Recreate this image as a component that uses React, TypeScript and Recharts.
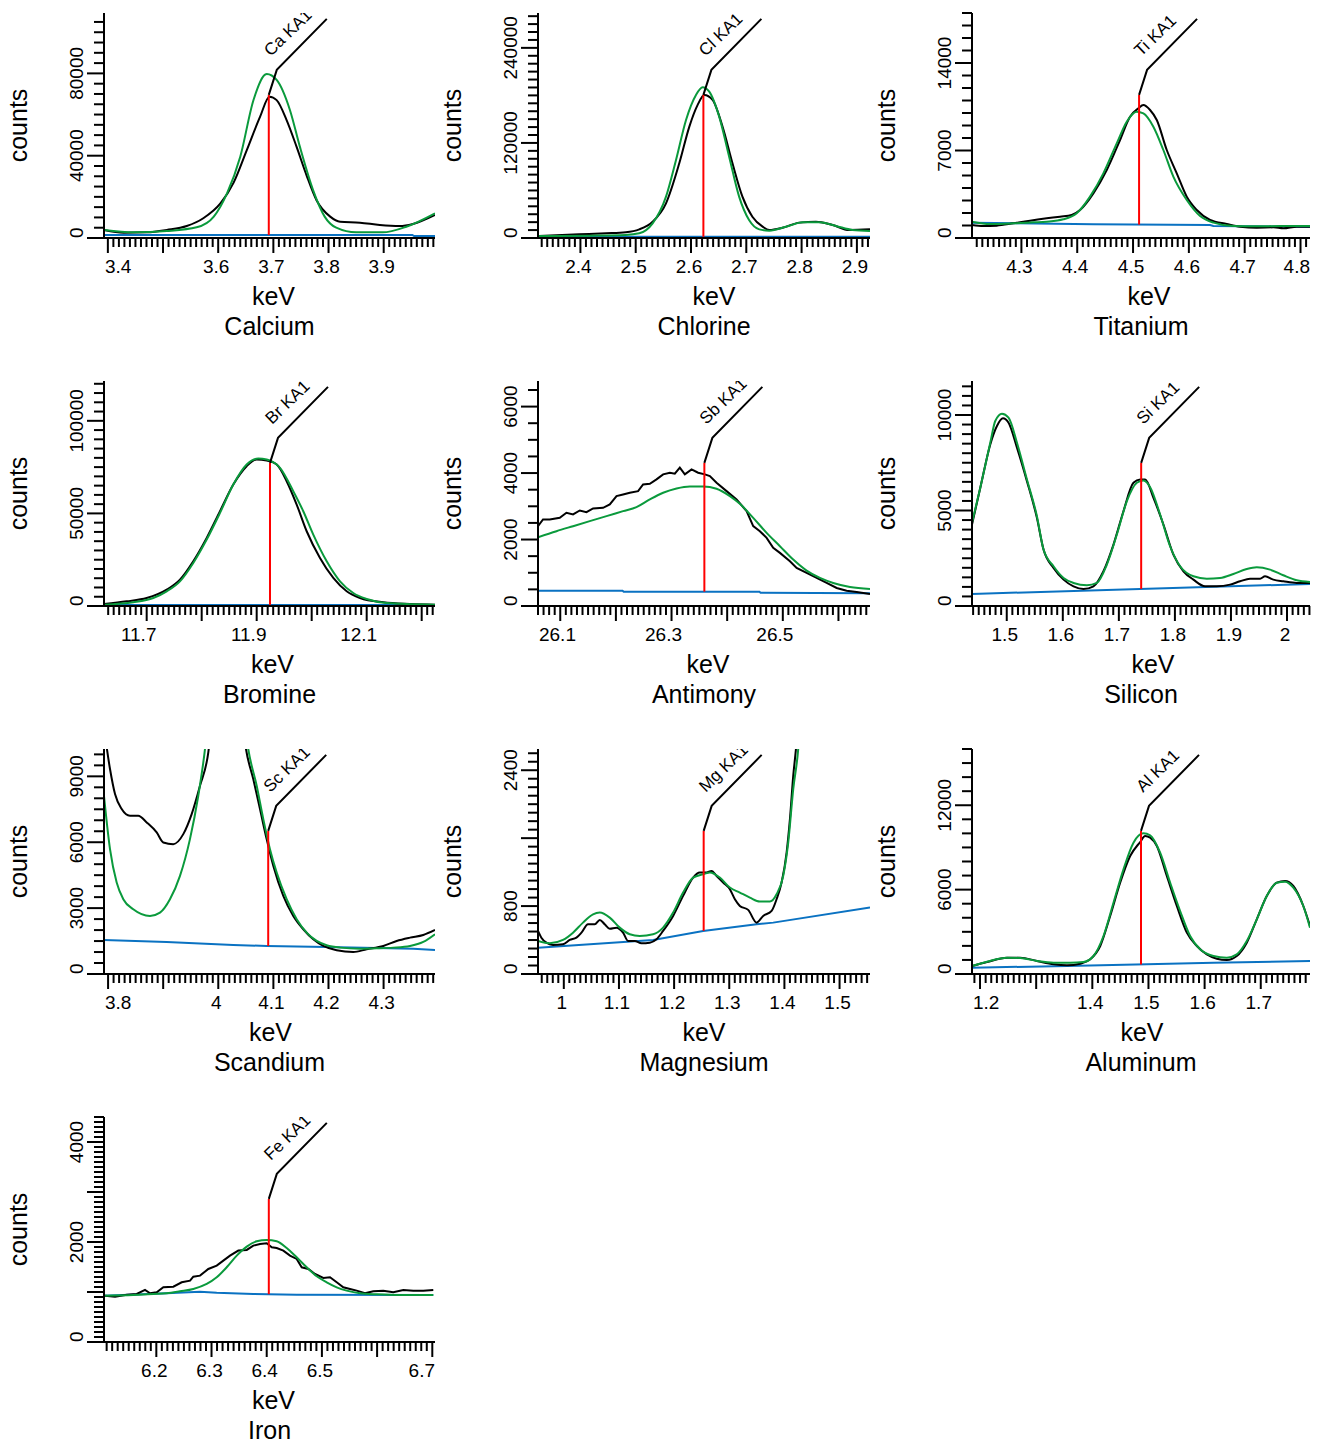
import { LineChart, Line, XAxis, YAxis, ReferenceLine } from 'recharts'

type Pt = [number, number]

const FONT = '"Liberation Sans", Arial, Helvetica, sans-serif'
const BLACK = '#000000'
const GREEN = '#0a9a3c'
const BLUE = '#0a72c2'
const RED = '#ff0000'

/* ---------- Calcium ---------- */
const CA_MEASURED: Pt[] = [
  [3.393, 3900], [3.4288, 2600], [3.471, 2750], [3.507, 3900], [3.543, 5800], [3.573, 9600],
  [3.604, 16800], [3.628, 26900], [3.652, 42800], [3.676, 59000], [3.693, 68700], [3.706, 67000],
  [3.724, 57300], [3.742, 44400], [3.76, 30600], [3.778, 18500], [3.803, 10400], [3.821, 7900],
  [3.857, 7450], [3.893, 6300], [3.929, 5800], [3.953, 6800], [3.993, 11200],
]
const CA_FIT: Pt[] = [
  [3.393, 3900], [3.447, 2750], [3.507, 3400], [3.561, 5200], [3.592, 10400], [3.616, 21700],
  [3.64, 39500], [3.664, 67100], [3.688, 79700], [3.706, 76800], [3.73, 62200], [3.748, 44400],
  [3.772, 23300], [3.793, 10400], [3.814, 5000], [3.85, 2750], [3.898, 2750], [3.941, 5500], [3.993, 12000],
]
const CA_BACKGROUND: Pt[] = [[3.393, 1460], [3.952, 1460], [3.955, 970], [3.993, 970]]
const CA_X_LABELS = [3.4, 3.6, 3.7, 3.8, 3.9]
const CA_Y_LABELS = [0, 40000, 80000]

/* ---------- Chlorine ---------- */
const CL_MEASURED: Pt[] = [
  [2.3233, 2500], [2.398, 4600], [2.4463, 5900], [2.482, 7200], [2.5065, 10900], [2.5306, 20600],
  [2.5548, 43800], [2.5788, 94300], [2.597, 140600], [2.612, 168000], [2.624, 180600], [2.639, 174300],
  [2.657, 140600], [2.675, 94300], [2.693, 52200], [2.711, 26900], [2.7295, 14300], [2.7416, 10100],
  [2.7657, 13000], [2.796, 19400], [2.826, 20600], [2.856, 16400], [2.886, 10100], [2.9237, 10900],
]
const CL_FIT: Pt[] = [
  [2.3233, 2500], [2.416, 2950], [2.482, 3800], [2.5065, 5900], [2.5306, 18500], [2.5548, 52200],
  [2.5729, 98500], [2.591, 149000], [2.609, 180600], [2.621, 190300], [2.633, 184800], [2.651, 153200],
  [2.669, 102700], [2.687, 52200], [2.705, 22700], [2.7235, 10900], [2.7416, 9300], [2.772, 14300],
  [2.802, 19800], [2.832, 19800], [2.862, 15200], [2.892, 10100], [2.9237, 8800],
]
const CL_BACKGROUND: Pt[] = [[2.3233, 1500], [2.9237, 1500]]
const CL_X_LABELS = [2.4, 2.5, 2.6, 2.7, 2.8, 2.9]
const CL_Y_LABELS = [0, 120000, 240000]

/* ---------- Titanium ---------- */
const TI_MEASURED: Pt[] = [
  [4.2115, 1040], [4.2317, 960], [4.2557, 987], [4.2855, 1173], [4.3154, 1387], [4.3453, 1573],
  [4.3692, 1707], [4.3901, 1840], [4.405, 2240], [4.4289, 3573], [4.4529, 5440], [4.4767, 7840],
  [4.4946, 9707], [4.5095, 10373], [4.5185, 10640], [4.5305, 10240], [4.5425, 9440], [4.5604, 7040],
  [4.5783, 5173], [4.5962, 3307], [4.6142, 2240], [4.638, 1440], [4.6679, 1120], [4.6918, 907],
  [4.7217, 827], [4.7514, 853], [4.7694, 773], [4.7934, 907], [4.817, 907],
]
const TI_FIT: Pt[] = [
  [4.2115, 1307], [4.2437, 1120], [4.2855, 1173], [4.3213, 1253], [4.3453, 1307], [4.3751, 1493],
  [4.3991, 1973], [4.4229, 3307], [4.4468, 5173], [4.4708, 7573], [4.4887, 9307], [4.5066, 10107],
  [4.5185, 9973], [4.5364, 8907], [4.5543, 7040], [4.5722, 4907], [4.5962, 3040], [4.6201, 1760],
  [4.6439, 1227], [4.6797, 960], [4.7217, 933], [4.7634, 960], [4.817, 960],
]
const TI_BACKGROUND: Pt[] = [[4.2115, 1227], [4.4289, 1093], [4.638, 1040], [4.6439, 960], [4.817, 907]]
const TI_X_LABELS = [4.3, 4.4, 4.5, 4.6, 4.7, 4.8]
const TI_Y_LABELS = [0, 7000, 14000]

/* ---------- Bromine ---------- */
const BR_MEASURED: Pt[] = [
  [11.6224, 1080], [11.6636, 2520], [11.7, 4320], [11.7364, 8830], [11.7605, 14240], [11.7847, 24150],
  [11.8091, 36760], [11.8333, 51180], [11.8575, 65590], [11.8818, 75500], [11.9, 79100], [11.9182, 78570],
  [11.9364, 76400], [11.9545, 67400], [11.9727, 54780], [11.9909, 40360], [12.0151, 25950], [12.0393, 15140],
  [12.0636, 7930], [12.0878, 4320], [12.1302, 1980], [12.1787, 1080], [12.2242, 720],
]
const BR_FIT: Pt[] = [
  [11.6224, 720], [11.6756, 1980], [11.712, 4320], [11.7364, 7930], [11.7605, 13330], [11.7847, 23250],
  [11.8091, 35860], [11.8333, 50280], [11.8575, 65590], [11.8818, 76400], [11.903, 79650], [11.9182, 79100],
  [11.9424, 74600], [11.9665, 61990], [11.9847, 51180], [12.0029, 38560], [12.0273, 24150], [12.0515, 13330],
  [12.0756, 7030], [12.1, 3780], [12.1364, 1620], [12.2242, 720],
]
const BR_BACKGROUND: Pt[] = [[11.6224, 600], [12.2242, 600]]
const BR_X_LABELS = [11.7, 11.9, 12.1]
const BR_Y_LABELS = [0, 50000, 100000]

/* ---------- Antimony ---------- */
const SB_MEASURED: Pt[] = [
  [26.06, 2402], [26.069, 2603], [26.0811, 2603], [26.0991, 2653], [26.1111, 2804], [26.123, 2754],
  [26.1351, 2874], [26.1471, 2824], [26.159, 2935], [26.177, 2955], [26.189, 3055], [26.2011, 3306],
  [26.2129, 3357], [26.225, 3407], [26.2399, 3457], [26.2489, 3658], [26.261, 3678], [26.273, 3809],
  [26.2849, 3960], [26.297, 4010], [26.3059, 3980], [26.3149, 4161], [26.3239, 3960], [26.336, 4110],
  [26.3478, 4010], [26.3599, 3960], [26.3689, 3909], [26.3809, 3708], [26.3989, 3457], [26.4169, 3206],
  [26.4349, 2854], [26.4468, 2402], [26.4588, 2251], [26.4709, 2050], [26.4827, 1749], [26.4948, 1598],
  [26.5128, 1347], [26.5248, 1146], [26.5428, 995], [26.5608, 844], [26.5788, 693], [26.5968, 543],
  [26.6147, 462], [26.6327, 422], [26.6567, 362],
]
const SB_FIT: Pt[] = [
  [26.06, 2070], [26.0932, 2251], [26.123, 2402], [26.153, 2553], [26.1831, 2703], [26.2129, 2854],
  [26.237, 2975], [26.261, 3206], [26.2849, 3407], [26.309, 3538], [26.3329, 3598], [26.3568, 3598],
  [26.3809, 3528], [26.4049, 3306], [26.4228, 3075], [26.4468, 2653], [26.4709, 2201], [26.4948, 1799],
  [26.5187, 1397], [26.5428, 1065], [26.5667, 844], [26.5906, 693], [26.6207, 573], [26.6567, 513],
]
const SB_BACKGROUND: Pt[] = [[26.06, 462], [26.212, 462], [26.214, 432], [26.458, 432], [26.46, 402], [26.6567, 382]]
const SB_X_LABELS = [26.1, 26.3, 26.5]
const SB_Y_LABELS = [0, 2000, 4000, 6000]

/* ---------- Silicon ---------- */
const SI_MEASURED: Pt[] = [
  [1.438, 4265], [1.4528, 6188], [1.4706, 8460], [1.4825, 9422], [1.4932, 9824], [1.5032, 9597],
  [1.5182, 8286], [1.536, 6538], [1.5538, 4615], [1.5656, 2954], [1.5834, 1993], [1.6013, 1381],
  [1.6191, 1031], [1.6369, 891], [1.6547, 1031], [1.6725, 1818], [1.6904, 3216], [1.7082, 4964],
  [1.726, 6450], [1.738, 6625], [1.7469, 6625], [1.7617, 5664], [1.7795, 4265], [1.7973, 2692],
  [1.8152, 1818], [1.833, 1381], [1.8538, 1031], [1.8747, 1031], [1.8984, 1120], [1.9162, 1294],
  [1.934, 1433], [1.9519, 1433], [1.9608, 1556], [1.9756, 1381], [1.9934, 1294], [2.0173, 1206], [2.041, 1206],
]
const SI_FIT: Pt[] = [
  [1.438, 4353], [1.4528, 6188], [1.4706, 8548], [1.4795, 9684], [1.4914, 10068], [1.5032, 9859],
  [1.5182, 8548], [1.536, 6625], [1.5538, 4702], [1.5656, 2954], [1.5834, 2080], [1.6013, 1468],
  [1.6191, 1206], [1.643, 1084], [1.6608, 1206], [1.6786, 2168], [1.6964, 3741], [1.7143, 5489],
  [1.7321, 6450], [1.7439, 6572], [1.7558, 6223], [1.7736, 4790], [1.7914, 3129], [1.8093, 2080],
  [1.833, 1556], [1.8569, 1433], [1.8806, 1468], [1.9043, 1678], [1.9282, 1940], [1.946, 2028],
  [1.9697, 1905], [1.9934, 1608], [2.0173, 1346], [2.041, 1259],
]
const SI_BACKGROUND: Pt[] = [[1.438, 629], [2.041, 1154]]
const SI_X_LABELS = [1.5, 1.6, 1.7, 1.8, 1.9, 2]
const SI_Y_LABELS = [0, 5000, 10000]

/* ---------- Scandium ---------- */
const SC_MEASURED: Pt[] = [
  [3.7926, 11200], [3.8035, 9333], [3.8126, 8193], [3.8247, 7509], [3.8397, 7205], [3.8548, 7205],
  [3.8701, 6901], [3.8882, 6445], [3.9002, 5989], [3.9183, 5913], [3.9365, 6369], [3.9517, 7281],
  [3.9668, 8573], [3.9819, 10093], [3.995, 13500], [4.013, 17000], [4.032, 14500], [4.0503, 10245],
  [4.0635, 8877], [4.0757, 7509], [4.0878, 6141], [4.0998, 4925], [4.118, 3557], [4.1361, 2645],
  [4.1543, 2037], [4.1724, 1581], [4.1906, 1277], [4.2149, 1079], [4.245, 1003], [4.2693, 1125],
  [4.2995, 1277], [4.3237, 1505], [4.3479, 1657], [4.372, 1778], [4.3933, 2006],
]
const SC_FIT: Pt[] = [
  [3.7926, 8100], [3.8035, 5685], [3.8156, 4165], [3.8276, 3405], [3.8457, 2949], [3.876, 2645],
  [3.8942, 2797], [3.9123, 3405], [3.9305, 4469], [3.9486, 6141], [3.9637, 8117], [3.9759, 10245],
  [3.99, 14000], [4.013, 18000], [4.035, 14500], [4.0544, 10245], [4.0697, 8573], [4.0817, 7053],
  [4.0938, 5685], [4.106, 4621], [4.1241, 3405], [4.1423, 2493], [4.1604, 1885], [4.1786, 1505],
  [4.1967, 1307], [4.2209, 1201], [4.2572, 1155], [4.2875, 1170], [4.3176, 1201], [4.3479, 1277],
  [4.372, 1459], [4.3933, 1809],
]
const SC_BACKGROUND: Pt[] = [
  [3.7926, 1550], [3.9063, 1459], [4.0272, 1322], [4.0878, 1277], [4.1967, 1231], [4.3539, 1155], [4.3933, 1094],
]
const SC_X_LABELS = [3.8, 4, 4.1, 4.2, 4.3]
const SC_Y_LABELS = [0, 3000, 6000, 9000]

/* ---------- Magnesium ---------- */
const MG_MEASURED: Pt[] = [
  [0.9532, 507], [0.9593, 428], [0.9684, 369], [0.9804, 342], [0.9985, 350], [1.0107, 401],
  [1.0229, 428], [1.032, 487], [1.0439, 586], [1.0561, 586], [1.0652, 637], [1.0742, 586],
  [1.0833, 534], [1.0955, 546], [1.1074, 487], [1.1165, 389], [1.1287, 389], [1.1408, 362],
  [1.1559, 369], [1.1681, 409], [1.18, 507], [1.1982, 684], [1.2163, 920], [1.2345, 1136],
  [1.2466, 1195], [1.2588, 1195], [1.2679, 1214], [1.277, 1155], [1.2889, 1077], [1.3011, 998],
  [1.3102, 880], [1.3192, 802], [1.3343, 755], [1.3495, 605], [1.3615, 684], [1.3768, 743],
  [1.3858, 880], [1.3949, 1077], [1.404, 1431], [1.41, 1824], [1.416, 2334], [1.4209, 2649],
  [1.435, 4000], [1.46, 7000], [1.4867, 9000], [1.52, 7000], [1.5552, 5000],
]
const MG_FIT: Pt[] = [
  [0.9532, 389], [0.9744, 362], [0.9985, 401], [1.0167, 487], [1.0348, 605], [1.053, 703],
  [1.0652, 723], [1.0833, 664], [1.1014, 546], [1.1196, 468], [1.1377, 448], [1.1619, 468],
  [1.18, 546], [1.1982, 723], [1.2163, 959], [1.2345, 1136], [1.2526, 1175], [1.2648, 1195],
  [1.2829, 1136], [1.3011, 1018], [1.3192, 959], [1.3374, 900], [1.3555, 853], [1.3737, 853],
  [1.3858, 939], [1.3978, 1155], [1.4069, 1548], [1.416, 2177], [1.425, 2649], [1.44, 4500],
  [1.4867, 10000], [1.5552, 5000],
]
const MG_BACKGROUND: Pt[] = [[0.9532, 310], [1.1619, 401], [1.2526, 507], [1.3495, 586], [1.3797, 605], [1.5552, 782]]
const MG_X_LABELS = [1, 1.1, 1.2, 1.3, 1.4, 1.5]
const MG_Y_LABELS = [0, 800, 2400]

/* ---------- Aluminum ---------- */
const AL_MEASURED: Pt[] = [
  [1.1857, 569], [1.2125, 853], [1.248, 1161], [1.2717, 1161], [1.3014, 924], [1.331, 687],
  [1.3548, 616], [1.3785, 735], [1.3963, 1043], [1.4141, 1991], [1.4318, 4124], [1.4496, 6494],
  [1.4674, 8390], [1.4852, 9385], [1.4941, 9812], [1.503, 9693], [1.5149, 9101], [1.5327, 6968],
  [1.5505, 4835], [1.5683, 2939], [1.5861, 1991], [1.6039, 1398], [1.6217, 1090], [1.6395, 995],
  [1.6573, 1280], [1.6751, 2228], [1.6929, 3887], [1.7107, 5546], [1.7285, 6494], [1.7432, 6612],
  [1.758, 6257], [1.7758, 4835], [1.7877, 3413],
]
const AL_FIT: Pt[] = [
  [1.1857, 569], [1.2125, 877], [1.248, 1161], [1.2717, 1138], [1.3014, 924], [1.331, 806],
  [1.3607, 806], [1.3843, 853], [1.4021, 1280], [1.4199, 2702], [1.4377, 5072], [1.4555, 7442],
  [1.4733, 9338], [1.4911, 10001], [1.503, 9859], [1.5208, 8627], [1.5386, 6494], [1.5564, 4479],
  [1.5742, 2702], [1.592, 1754], [1.6157, 1280], [1.6395, 1161], [1.6573, 1398], [1.6751, 2346],
  [1.6929, 3887], [1.7107, 5546], [1.7285, 6494], [1.7432, 6565], [1.758, 6138], [1.7758, 4835], [1.7877, 3294],
]
const AL_BACKGROUND: Pt[] = [[1.1857, 450], [1.3548, 569], [1.4972, 687], [1.6157, 806], [1.7877, 924]]
const AL_X_LABELS = [1.2, 1.4, 1.5, 1.6, 1.7]
const AL_Y_LABELS = [0, 6000, 12000]

/* ---------- Iron ---------- */
const FE_MEASURED: Pt[] = [
  [6.1071, 927], [6.1252, 907], [6.1464, 947], [6.1645, 960], [6.1795, 1041], [6.1886, 974],
  [6.2007, 994], [6.2127, 1094], [6.2308, 1107], [6.246, 1194], [6.2611, 1227], [6.267, 1307],
  [6.2792, 1327], [6.2942, 1461], [6.3094, 1527], [6.3214, 1627], [6.3335, 1728], [6.3486, 1828],
  [6.3638, 1841], [6.3757, 1928], [6.3879, 1961], [6.4, 1974], [6.4091, 1894], [6.4181, 1881],
  [6.4301, 1828], [6.4422, 1728], [6.4543, 1661], [6.4634, 1494], [6.4754, 1461], [6.4875, 1361],
  [6.5025, 1281], [6.5147, 1294], [6.5268, 1194], [6.5388, 1094], [6.5509, 1061], [6.563, 1027],
  [6.5781, 974], [6.5931, 1014], [6.6112, 1027], [6.6293, 994], [6.6475, 1041], [6.6656, 1027],
  [6.6837, 1027], [6.7018, 1041],
]
const FE_FIT: Pt[] = [
  [6.1071, 927], [6.1583, 940], [6.1946, 960], [6.2188, 974], [6.2429, 1014], [6.267, 1061],
  [6.2913, 1161], [6.3094, 1294], [6.3275, 1494], [6.3457, 1728], [6.3638, 1908], [6.3819, 2014],
  [6.4, 2041], [6.4181, 2014], [6.4362, 1881], [6.4543, 1694], [6.4725, 1494], [6.4906, 1314],
  [6.5087, 1194], [6.5268, 1094], [6.5449, 1027], [6.569, 974], [6.5993, 954], [6.6415, 940], [6.7018, 940],
]
const FE_BACKGROUND: Pt[] = [[6.1052, 927], [6.2188, 974], [6.2792, 1007], [6.3094, 987], [6.3757, 960], [6.4543, 947], [6.7018, 940]]
const FE_X_LABELS = [6.2, 6.3, 6.4, 6.5, 6.7]
const FE_Y_LABELS = [0, 2000, 4000]

/* ---------- layout ---------- */
const COL_X = [0, 440, 880]
const ROW_Y = [0, 368, 736, 1104]
const PLOT_LEFT = [104, 98, 92]
const PLOT_RIGHT = [435, 430, 430]
const PLOT_TOP = 13
const PLOT_BOTTOM = 238
const CHART_H = 290
const MARK_FRACTION = 0.636
const TICK_FONT = 19
const TITLE_FONT = 25

interface PanelSpec {
  name: string
  lineLabel: string
  col: number
  row: number
  xDomain: [number, number]
  yDomain: [number, number]
  xLabels: number[]
  yLabels: number[]
  yMajorStep: number
  yMinorStep: number
  peak: number
  measured: Pt[]
  fit: Pt[]
  background: Pt[]
  noisy?: boolean
  labelShift: number
  keVShift: number
}

const PANELS: PanelSpec[] = [
  { name: 'Calcium', lineLabel: 'Ca KA1', col: 0, row: 0, xDomain: [3.393, 3.993], yDomain: [0, 109350],
    xLabels: CA_X_LABELS, yLabels: CA_Y_LABELS, yMajorStep: 40000, yMinorStep: 5000, peak: 3.6917,
    measured: CA_MEASURED, fit: CA_FIT, background: CA_BACKGROUND, labelShift: -2, keVShift: 4 },
  { name: 'Chlorine', lineLabel: 'Cl KA1', col: 1, row: 0, xDomain: [2.3233, 2.9237], yDomain: [0, 284000],
    xLabels: CL_X_LABELS, yLabels: CL_Y_LABELS, yMajorStep: 120000, yMinorStep: 10000, peak: 2.6224,
    measured: CL_MEASURED, fit: CL_FIT, background: CL_BACKGROUND, labelShift: -2, keVShift: 10 },
  { name: 'Titanium', lineLabel: 'Ti KA1', col: 2, row: 0, xDomain: [4.2115, 4.817], yDomain: [0, 18000],
    xLabels: TI_X_LABELS, yLabels: TI_Y_LABELS, yMajorStep: 7000, yMinorStep: 1000, peak: 4.5108,
    measured: TI_MEASURED, fit: TI_FIT, background: TI_BACKGROUND, labelShift: -2, keVShift: 8 },
  { name: 'Bromine', lineLabel: 'Br KA1', col: 0, row: 1, xDomain: [11.6224, 12.2242], yDomain: [0, 121500],
    xLabels: BR_X_LABELS, yLabels: BR_Y_LABELS, yMajorStep: 50000, yMinorStep: 5000, peak: 11.9242,
    measured: BR_MEASURED, fit: BR_FIT, background: BR_BACKGROUND, labelShift: -8, keVShift: 3 },
  { name: 'Antimony', lineLabel: 'Sb KA1', col: 1, row: 1, xDomain: [26.06, 26.6567], yDomain: [0, 6770],
    xLabels: SB_X_LABELS, yLabels: SB_Y_LABELS, yMajorStep: 2000, yMinorStep: 500, peak: 26.359,
    measured: SB_MEASURED, fit: SB_FIT, background: SB_BACKGROUND, noisy: true, labelShift: -8, keVShift: 4 },
  { name: 'Silicon', lineLabel: 'Si KA1', col: 2, row: 1, xDomain: [1.438, 2.041], yDomain: [0, 11780],
    xLabels: SI_X_LABELS, yLabels: SI_Y_LABELS, yMajorStep: 5000, yMinorStep: 500, peak: 1.7398,
    measured: SI_MEASURED, fit: SI_FIT, background: SI_BACKGROUND, labelShift: -2, keVShift: 12 },
  { name: 'Scandium', lineLabel: 'Sc KA1', col: 0, row: 2, xDomain: [3.7926, 4.3933], yDomain: [0, 10245],
    xLabels: SC_X_LABELS, yLabels: SC_Y_LABELS, yMajorStep: 3000, yMinorStep: 500, peak: 4.0906,
    measured: SC_MEASURED, fit: SC_FIT, background: SC_BACKGROUND, labelShift: -2, keVShift: 1 },
  { name: 'Magnesium', lineLabel: 'Mg KA1', col: 1, row: 2, xDomain: [0.9532, 1.5552], yDomain: [0, 2650],
    xLabels: MG_X_LABELS, yLabels: MG_Y_LABELS, yMajorStep: 800, yMinorStep: 100, peak: 1.2536,
    measured: MG_MEASURED, fit: MG_FIT, background: MG_BACKGROUND, labelShift: -2, keVShift: 0 },
  { name: 'Aluminum', lineLabel: 'Al KA1', col: 2, row: 2, xDomain: [1.1857, 1.7877], yDomain: [0, 16000],
    xLabels: AL_X_LABELS, yLabels: AL_Y_LABELS, yMajorStep: 6000, yMinorStep: 1000, peak: 1.4867,
    measured: AL_MEASURED, fit: AL_FIT, background: AL_BACKGROUND, labelShift: -2, keVShift: 1 },
  { name: 'Iron', lineLabel: 'Fe KA1', col: 0, row: 3, xDomain: [6.1052, 6.7049], yDomain: [0, 4500],
    xLabels: FE_X_LABELS, yLabels: FE_Y_LABELS, yMajorStep: 1000, yMinorStep: 100, peak: 6.4038,
    measured: FE_MEASURED, fit: FE_FIT, background: FE_BACKGROUND, noisy: true, labelShift: -2, keVShift: 4 },
]

/* ---------- helpers ---------- */
function steps(min: number, max: number, step: number): number[] {
  const out: number[] = []
  for (let i = Math.ceil(min / step - 1e-9); i * step <= max + 1e-9; i++) out.push(+(i * step).toFixed(6))
  return out
}
const isMultiple = (v: number, step: number) => Math.abs(v / step - Math.round(v / step)) < 1e-6
const textWidth = (s: string, size: number) =>
  [...s].reduce((w, c) => w + (c === '.' ? 0.278 : 0.556), 0) * size
const rows = (pts: Pt[]) => pts.map(([x, y]) => ({ x, y }))
const fmt = (v: number) => String(+v.toFixed(4))

function valueAt(pts: Pt[], x: number): number {
  for (let i = 1; i < pts.length; i++) {
    const [x0, y0] = pts[i - 1]
    const [x1, y1] = pts[i]
    if (x >= x0 && x <= x1) return y0 + ((y1 - y0) * (x - x0)) / (x1 - x0)
  }
  return pts[pts.length - 1][1]
}

function Panel({ spec }: { spec: PanelSpec }) {
  const left = PLOT_LEFT[spec.col]
  const right = PLOT_RIGHT[spec.col]
  const width = right + 10
  const xTicks = steps(spec.xDomain[0], spec.xDomain[1], 0.01)
  const yTicks = steps(spec.yDomain[0], spec.yDomain[1], spec.yMinorStep)
  const base = valueAt(spec.background, spec.peak)
  const markTop = spec.yDomain[0] + MARK_FRACTION * (spec.yDomain[1] - spec.yDomain[0])

  const renderXTick = (p: any) => {
    const v = p.payload.value as number
    const major = isMultiple(v, 0.1)
    const labelled = spec.xLabels.some((l) => Math.abs(l - v) < 1e-6)
    let cx = p.x + spec.labelShift
    if (labelled) {
      const half = textWidth(fmt(v), TICK_FONT) / 2
      cx = Math.max(cx, left + 1 + half)
      cx = Math.min(cx, right - half)
    }
    return (
      <g>
        <line x1={p.x} x2={p.x} y1={p.y} y2={p.y + (major ? 15 : 9)} stroke={BLACK} strokeWidth={2} />
        {labelled && (
          <text x={cx} y={p.y + 35} textAnchor="middle" fontSize={TICK_FONT} fontFamily={FONT} fill={BLACK}>
            {fmt(v)}
          </text>
        )}
      </g>
    )
  }

  const renderYTick = (p: any) => {
    const v = p.payload.value as number
    const major = isMultiple(v, spec.yMajorStep)
    const labelled = spec.yLabels.includes(v)
    let cy = p.y
    const bx = p.x - 21
    if (labelled) {
      const half = textWidth(fmt(v), TICK_FONT) / 2
      cy = Math.min(cy, PLOT_BOTTOM - half)
      cy = Math.max(cy, PLOT_TOP + half)
    }
    return (
      <g>
        <line x1={p.x} x2={p.x - (major ? 17 : 10)} y1={p.y} y2={p.y} stroke={BLACK} strokeWidth={2} />
        {labelled && (
          <text x={bx} y={cy} transform={`rotate(-90 ${bx} ${cy})`} textAnchor="middle"
            fontSize={TICK_FONT} fontFamily={FONT} fill={BLACK}>
            {fmt(v)}
          </text>
        )}
      </g>
    )
  }

  const renderMarker = (p: any) => {
    const x = p.x1
    const top = Math.min(p.y1, p.y2)
    const bottom = Math.max(p.y1, p.y2)
    return (
      <g clipPath={p.clipPath}>
        <line x1={x} x2={x} y1={bottom} y2={top} stroke={RED} strokeWidth={2} />
        <polyline points={`${x},${top} ${x + 8},${top - 25} ${x + 58},${top - 76}`}
          fill="none" stroke={BLACK} strokeWidth={2} />
        <text x={x + 2} y={top - 38} transform={`rotate(-44 ${x + 2} ${top - 38})`}
          fontSize={17} fontFamily={FONT} fill={BLACK}>
          {spec.lineLabel}
        </text>
      </g>
    )
  }

  return (
    <div style={{ position: 'absolute', left: COL_X[spec.col], top: ROW_Y[spec.row] }}>
      <LineChart width={width} height={CHART_H}
        margin={{ top: PLOT_TOP, right: width - right, bottom: 0, left: 0 }}>
        <XAxis type="number" dataKey="x" domain={spec.xDomain} allowDataOverflow ticks={xTicks}
          interval={0} tick={renderXTick} tickLine={false} tickSize={0} tickMargin={0}
          height={CHART_H - PLOT_BOTTOM} axisLine={{ stroke: BLACK, strokeWidth: 2 }} />
        <YAxis type="number" domain={spec.yDomain} allowDataOverflow ticks={yTicks}
          interval={0} tick={renderYTick} tickLine={false} tickSize={0} tickMargin={0}
          width={left} axisLine={{ stroke: BLACK, strokeWidth: 2 }} />
        <Line data={rows(spec.background)} dataKey="y" type="linear" stroke={BLUE} strokeWidth={2}
          dot={false} activeDot={false} isAnimationActive={false} />
        <Line data={rows(spec.measured)} dataKey="y" type={spec.noisy ? 'linear' : 'monotone'}
          stroke={BLACK} strokeWidth={2} dot={false} activeDot={false} isAnimationActive={false} />
        <Line data={rows(spec.fit)} dataKey="y" type="monotone" stroke={GREEN} strokeWidth={2}
          dot={false} activeDot={false} isAnimationActive={false} />
        <ReferenceLine segment={[{ x: spec.peak, y: base }, { x: spec.peak, y: markTop }]}
          ifOverflow="hidden" shape={renderMarker} />
      </LineChart>
    </div>
  )
}

export default function App() {
  return (
    <div style={{ position: 'absolute', left: 0, top: 0, width: 1326, height: 1452, background: '#fff' }}>
      {PANELS.map((p) => (
        <Panel key={p.name} spec={p} />
      ))}
      <svg width={1326} height={1452} style={{ position: 'absolute', left: 0, top: 0, pointerEvents: 'none' }}>
        {PANELS.map((p) => {
          const ox = COL_X[p.col]
          const oy = ROW_Y[p.row]
          const cx = ox + (PLOT_LEFT[p.col] + PLOT_RIGHT[p.col]) / 2
          const tx = ox + PLOT_LEFT[p.col] - 77
          const ty = oy + 125.5
          return (
            <g key={p.name} fontFamily={FONT} fontSize={TITLE_FONT} fill={BLACK}>
              <text x={tx} y={ty} transform={`rotate(-90 ${tx} ${ty})`} textAnchor="middle">counts</text>
              <text x={cx + p.keVShift} y={oy + 305} textAnchor="middle">keV</text>
              <text x={cx} y={oy + 335} textAnchor="middle">{p.name}</text>
            </g>
          )
        })}
      </svg>
    </div>
  )
}
